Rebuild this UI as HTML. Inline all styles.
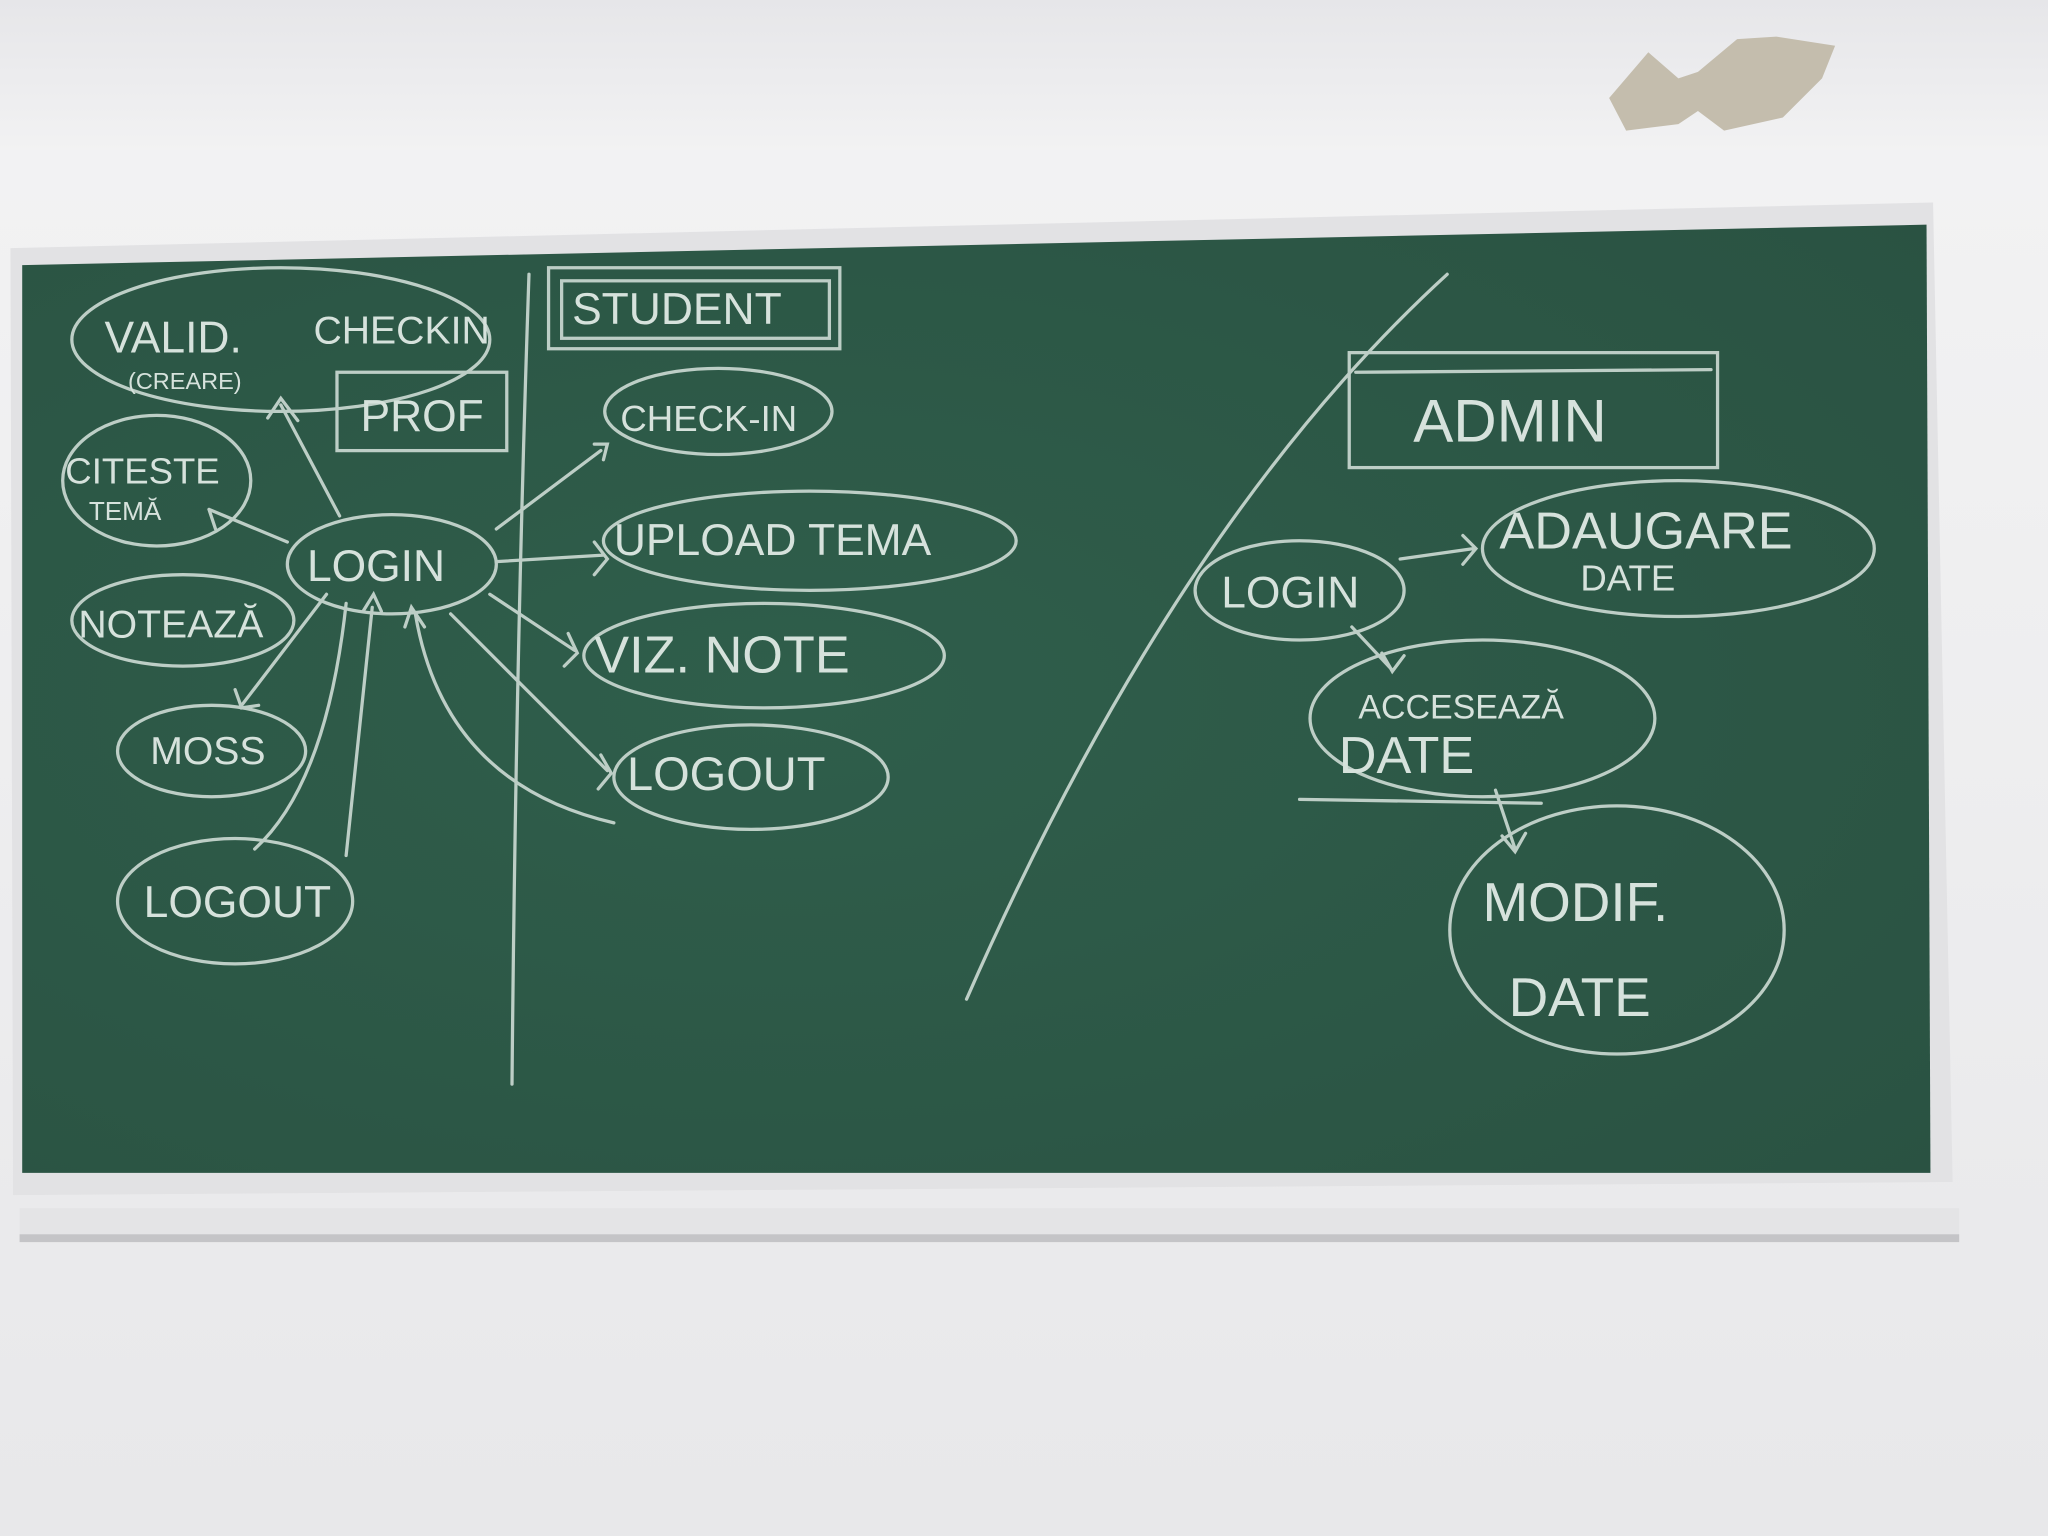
<!DOCTYPE html>
<html><head><meta charset="utf-8"><style>
html,body{margin:0;padding:0;width:2048px;height:1536px;overflow:hidden;background:#ececed}
svg{display:block}
text{font-family:"Liberation Sans",sans-serif;fill:#d6e2dc;font-weight:normal}
</style></head><body>
<svg width="2048" height="1536" viewBox="0 0 1568 1176" xmlns="http://www.w3.org/2000/svg">
<defs>
<linearGradient id="wall" x1="0" y1="0" x2="0" y2="1">
<stop offset="0" stop-color="#e6e6e9"/><stop offset="0.1" stop-color="#f2f2f3"/><stop offset="1" stop-color="#e8e8ea"/></linearGradient>
<radialGradient id="gb" cx="0.4" cy="0.5" r="0.8">
<stop offset="0" stop-color="#2f5e4b"/><stop offset="1" stop-color="#2a5242"/></radialGradient>
</defs>
<rect width="1568" height="1176" fill="url(#wall)"/>
<path d="M1232 75 L1262 40 L1285 60 L1300 55 L1330 30 L1360 28 L1405 35 L1395 60 L1365 90 L1320 100 L1300 85 L1285 95 L1245 100 Z" fill="#c4bdad"/>
<polygon points="8,190 1480,155 1495,905 10,915" fill="#e2e2e4"/>
<polygon points="17,203 1475,172 1478,898 17,898" fill="url(#gb)"/>
<rect x="15" y="925" width="1485" height="25" fill="#e4e4e6"/>
<rect x="15" y="945" width="1485" height="6" fill="#c4c4c7"/>
<g fill="none" stroke="#cddbd4" stroke-width="2.5" stroke-linecap="round" opacity="0.9">
<path d="M405 210 Q395 500 392 830"/>
<path d="M1108 210 Q900 400 740 765"/>
<rect x="420" y="205" width="223" height="62"/>
<rect x="430" y="215" width="205" height="44"/>
<rect x="258" y="285" width="130" height="60"/>
<rect x="1033" y="270" width="282" height="88"/>
<path d="M1038 285 L1310 283"/>
<ellipse cx="215" cy="260" rx="160" ry="55"/>
<ellipse cx="120" cy="368" rx="72" ry="50"/>
<ellipse cx="300" cy="432" rx="80" ry="38"/>
<ellipse cx="140" cy="475" rx="85" ry="35"/>
<ellipse cx="162" cy="575" rx="72" ry="35"/>
<ellipse cx="180" cy="690" rx="90" ry="48"/>
<ellipse cx="550" cy="315" rx="87" ry="33"/>
<ellipse cx="620" cy="414" rx="158" ry="38"/>
<ellipse cx="585" cy="502" rx="138" ry="40"/>
<ellipse cx="575" cy="595" rx="105" ry="40"/>
<ellipse cx="995" cy="452" rx="80" ry="38"/>
<ellipse cx="1285" cy="420" rx="150" ry="52"/>
<ellipse cx="1135" cy="550" rx="132" ry="60"/>
<ellipse cx="1238" cy="712" rx="128" ry="95"/>
<path d="M260 395 L215 310 M205 320 L215 305 L228 322"/>
<path d="M220 415 L160 390 M165 405 L160 390"/>
<path d="M250 455 L185 540 M180 528 L185 542 L198 540"/>
<path d="M265 462 Q250 600 195 650"/>
<path d="M285 465 L265 655 M278 468 L286 455 L292 468"/>
<path d="M318 470 Q340 600 470 630 M310 480 L315 465 L325 480"/>
<path d="M380 405 L460 345 M455 340 L465 340 L462 352"/>
<path d="M380 430 L462 425 M455 415 L465 428 L455 440"/>
<path d="M375 455 L440 498 M435 485 L442 500 L432 510"/>
<path d="M345 470 L465 590 M460 578 L468 592 L458 604"/>
<path d="M1072 428 L1128 420 M1120 410 L1130 420 L1120 432"/>
<path d="M1035 480 L1065 512 M1058 500 L1066 514 L1075 502"/>
<path d="M1145 605 L1160 650 M1150 640 L1160 652 L1168 638"/>
<path d="M995 612 L1180 615"/>
</g>
<g font-size="30">
<text x="80" y="270" font-size="34">VALID.</text>
<text x="98" y="298" font-size="18">(CREARE)</text>
<text x="240" y="263" font-size="30">CHECKIN</text>
<text x="276" y="330" font-size="34">PROF</text>
<text x="438" y="248" font-size="34">STUDENT</text>
<text x="50" y="370" font-size="28">CITESTE</text>
<text x="68" y="398" font-size="20">TEMĂ</text>
<text x="235" y="445" font-size="34">LOGIN</text>
<text x="60" y="488" font-size="30">NOTEAZĂ</text>
<text x="115" y="585" font-size="30">MOSS</text>
<text x="110" y="702" font-size="34">LOGOUT</text>
<text x="475" y="330" font-size="28">CHECK-IN</text>
<text x="470" y="425" font-size="34">UPLOAD  TEMA</text>
<text x="455" y="515" font-size="40">VIZ. NOTE</text>
<text x="480" y="605" font-size="36">LOGOUT</text>
<text x="1082" y="338" font-size="46">ADMIN</text>
<text x="935" y="465" font-size="34">LOGIN</text>
<text x="1148" y="420" font-size="40">ADAUGARE</text>
<text x="1210" y="452" font-size="28">DATE</text>
<text x="1040" y="550" font-size="26">ACCESEAZĂ</text>
<text x="1025" y="592" font-size="40">DATE</text>
<text x="1135" y="705" font-size="42">MODIF.</text>
<text x="1155" y="778" font-size="42">DATE</text>
</g>
</svg>
</body></html>
